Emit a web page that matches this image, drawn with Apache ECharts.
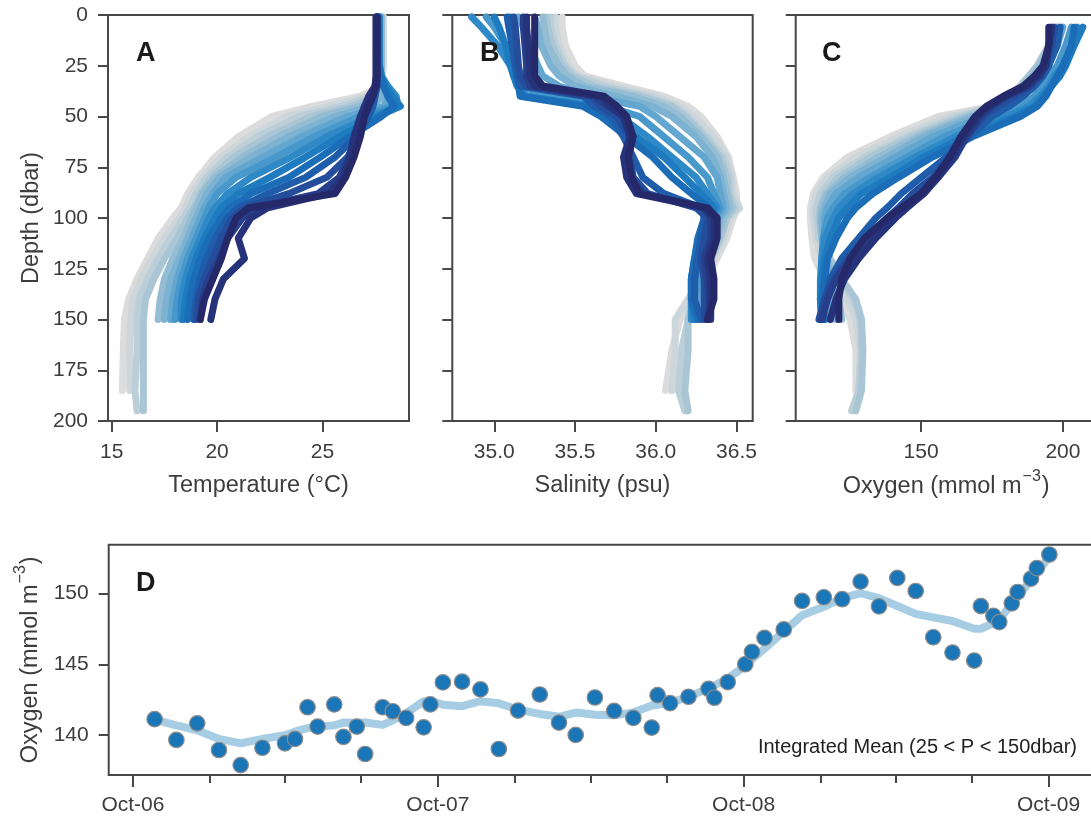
<!DOCTYPE html>
<html>
<head>
<meta charset="utf-8">
<script src="https://cdn.jsdelivr.net/npm/echarts@6/dist/echarts.min.js"></script>
<style>
html,body{margin:0;padding:0;background:#fff;}
#chart{width:1091px;height:816px;}
</style>
</head>
<body>
<div id="chart"></div>
<script>
// ---------------- DATA ----------------
const depthLevels = [1, 6, 15, 25, 30, 35, 40, 45, 50, 60, 70, 80, 88, 95, 100, 110, 120, 130, 140, 150, 165, 185, 195];

// profiles ordered in time (early -> late)
const temperatureProfiles = [
  [27.9,27.9,27.9,27.9,27.85,27.8,26.8,24.5,22.6,21.0,19.9,19.1,18.6,18.3,17.9,17.2,16.7,16.2,15.8,15.6,15.55,15.5,null],
  [27.85,27.85,27.85,27.85,27.8,27.8,27.2,25.3,23.3,21.5,20.2,19.3,18.8,18.5,18.2,17.5,16.9,16.4,16.0,15.9,15.85,15.85,null],
  [27.8,27.8,27.8,27.8,27.8,27.75,27.4,25.9,23.9,21.9,20.5,19.5,19.0,18.7,18.4,17.8,17.2,16.7,16.3,16.2,16.2,16.1,16.2],
  [27.8,27.8,27.8,27.8,27.8,27.75,27.6,26.4,24.5,22.4,20.8,19.7,19.2,18.9,18.6,18.1,17.5,17.0,16.6,16.5,16.5,16.5,16.5],
  [27.8,27.8,27.8,27.8,27.8,27.8,27.7,26.8,25.0,22.9,21.2,19.9,19.3,19.0,18.8,18.4,17.9,17.5,17.3,17.2],
  [27.75,27.75,27.75,27.75,27.75,27.8,27.9,27.3,25.6,23.4,21.6,20.1,19.5,19.2,19.0,18.6,18.2,17.8,17.6,17.5],
  [27.7,27.7,27.7,27.7,27.75,27.9,28.2,27.9,26.2,24.0,22.2,20.4,19.8,19.4,19.2,18.8,18.4,18.1,17.9,17.8],
  [27.7,27.7,27.7,27.7,27.8,28.0,28.4,28.3,26.8,24.6,22.8,20.9,20.0,19.6,19.4,19.0,18.6,18.3,18.1,18.0],
  [27.7,27.7,27.7,27.7,27.8,28.1,28.5,28.6,27.3,25.2,23.5,21.6,20.5,19.9,19.6,19.2,18.8,18.5,18.3,18.3],
  [27.65,27.65,27.65,27.7,27.8,28.0,28.3,28.7,27.6,25.8,24.2,22.5,21.0,20.2,19.9,19.4,19.0,18.7,18.5,18.4],
  [27.65,27.65,27.65,27.65,27.75,27.9,28.1,28.4,27.8,26.3,24.9,23.4,21.6,20.6,20.2,19.6,19.2,18.9,18.7,18.6],
  [27.6,27.6,27.6,27.6,27.6,27.6,27.5,27.4,27.2,26.6,25.6,24.2,22.4,21.0,20.5,19.9,19.5,19.2,19.0,18.9],
  [27.6,27.6,27.6,27.6,27.6,27.6,27.4,27.2,27.0,26.7,26.2,25.2,23.4,21.3,20.7,20.2,19.8,19.4,19.1,19.0],
  [27.55,27.55,27.55,27.55,27.55,27.5,27.3,27.0,26.9,26.6,26.3,25.8,24.8,21.8,21.2,20.5,20.1,19.6,19.3,19.2],
  [27.55,27.55,27.55,27.55,27.55,27.5,27.2,27.0,26.8,26.5,26.3,26.0,25.3,22.4,21.6,21.0,21.3,20.3,19.9,19.7],
  [27.6,27.6,27.6,27.6,27.6,27.55,27.4,27.2,27.0,26.8,26.5,26.1,25.6,21.5,20.9,20.5,20.2,19.8,19.4,19.2]
];

const salinityProfiles = [
  [35.42,35.42,35.44,35.5,35.56,35.8,36.05,36.2,36.28,36.38,36.45,36.48,36.5,36.5,36.48,36.44,36.38,36.3,36.22,36.15,36.1,36.06,null],
  [35.38,35.38,35.4,35.46,35.52,35.74,36.0,36.15,36.24,36.36,36.44,36.47,36.48,36.52,36.46,36.42,36.36,36.28,36.2,36.12,36.12,36.1,null],
  [35.35,35.35,35.38,35.44,35.5,35.68,35.95,36.12,36.2,36.32,36.42,36.46,36.46,36.5,36.44,36.4,36.34,36.26,36.22,36.2,36.16,36.14,36.18],
  [35.32,35.33,35.36,35.42,35.48,35.62,35.9,36.1,36.18,36.3,36.4,36.44,36.45,36.48,36.44,36.4,36.34,36.3,36.25,36.2,36.2,36.18,36.2],
  [35.3,35.31,35.33,35.4,35.45,35.56,35.85,36.05,36.15,36.28,36.38,36.42,36.44,36.46,36.42,36.38,36.34,36.3,36.28,36.25],
  [35.25,35.27,35.29,35.35,35.4,35.5,35.75,35.98,36.1,36.25,36.35,36.4,36.42,36.44,36.4,36.36,36.32,36.3,36.28,36.26],
  [35.15,35.18,35.22,35.27,35.3,35.4,35.6,35.9,36.0,36.15,36.3,36.38,36.4,36.42,36.38,36.34,36.3,36.28,36.26,36.24],
  [34.95,35.0,35.07,35.12,35.15,35.18,35.3,35.7,35.9,36.05,36.2,36.32,36.36,36.4,36.36,36.32,36.28,36.26,36.24,36.24],
  [34.86,34.92,35.02,35.1,35.12,35.14,35.2,35.62,35.78,35.95,36.1,36.25,36.32,36.38,36.34,36.3,36.26,36.24,36.22,36.22],
  [35.0,35.03,35.07,35.1,35.12,35.15,35.18,35.6,35.7,35.88,36.05,36.18,36.28,36.36,36.32,36.28,36.24,36.22,36.22,36.24],
  [35.1,35.1,35.11,35.13,35.14,35.15,35.16,35.55,35.66,35.82,35.98,36.1,36.22,36.33,36.3,36.26,36.24,36.22,36.22,36.26],
  [35.08,35.09,35.11,35.13,35.14,35.16,35.55,35.62,35.72,35.8,35.86,35.92,36.05,36.28,36.3,36.28,36.26,36.24,36.24,36.28],
  [35.12,35.13,35.14,35.15,35.16,35.2,35.6,35.66,35.76,35.84,35.84,35.86,35.95,36.25,36.32,36.3,36.28,36.3,36.3,36.3],
  [35.18,35.18,35.19,35.2,35.2,35.22,35.62,35.7,35.8,35.86,35.82,35.84,35.92,36.3,36.34,36.34,36.3,36.32,36.33,36.32],
  [35.2,35.2,35.21,35.22,35.22,35.25,35.66,35.72,35.8,35.84,35.8,35.82,35.88,36.3,36.36,36.36,36.32,36.34,36.34,36.34],
  [35.25,35.25,35.25,35.25,35.25,35.3,35.68,35.76,35.82,35.86,35.83,35.85,35.9,36.32,36.38,36.38,36.34,36.36,36.36,36.32]
];

const oxygenProfiles = [
  [null,198,196,192,189,186,182,175,156,139,124,115.5,112,111,111,111.5,112.5,116,122,125,127,127,null],
  [null,198,196,192,189,186,182,176,160,142,127,117,113,112,112,113,115,119,124,127,128.5,128,null],
  [null,197,195,191,188,185,181,176,163,145,130,119,114.5,113,113,114,117,121,126,128.5,129,128,125.5],
  [null,197,195,191,188,185,181,177,165,147,132,121,116,114.5,114,115,118,122,127,129,129.5,129,127],
  [null,198,196,192,189,186,183,178,167,149,135,123,117,115,114.5,115,117,119.5,121,122],
  [null,199,197,193,190,187,184,179,169,151,138,125,118,116,115,115.5,116.5,118,119,120],
  [null,200,198,194,192,189,186,181,172,154,141,128,120,117,116,116,116,116.5,117,118],
  [null,203,201,198,195,192,190,185,176,158,145,132,123,119,117,115.5,115,115,115.5,116],
  [null,205,203,200,197,195,192,188,180,162,148,135,126,121,119,116,115,114.5,114.5,115],
  [null,207,204,201,199,196,193,190,183,165,151,139,129,124,121,118,116,115,114.5,115],
  [null,204,203,200,198,196,194,191,185,168,154,142,133,127,124,120,117,116,115,116],
  [null,199,198,195,193,190,186,181,175,167,159,150,143,138,134,128,122,118,116,115.5],
  [null,197,196,194,191,189,183,177,172,166,161,154,147,142,138,131,124,119,116,114],
  [null,196,195,194,192,188,180,175,171,166,162,156,150,144,140,132,125,120,117,115],
  [null,196,195,194,191,187,180,174,170,165,161,156,151,145,141,134,128,123,120,118],
  [null,195,195,193,190,186,179,173,169,164,160,155,150,143,138,130,125,122,121,121]
];

// Panel D: integrated mean oxygen
const castDates = [
  '2006-10-27','2006-11-22','2006-12-17','2007-01-12','2007-02-07','2007-03-05','2007-04-01','2007-04-13',
  '2007-04-28','2007-05-10','2007-05-30','2007-06-10','2007-06-26','2007-07-06','2007-07-27','2007-08-08',
  '2007-08-24','2007-09-14','2007-09-22','2007-10-07','2007-10-30','2007-11-21','2007-12-13','2008-01-05',
  '2008-01-31','2008-02-23','2008-03-14','2008-04-06','2008-04-29','2008-05-22','2008-06-13','2008-06-20',
  '2008-07-05','2008-07-27','2008-08-20','2008-08-27','2008-09-12','2008-10-03','2008-10-11','2008-10-26',
  '2008-11-18','2008-12-10','2009-01-05','2009-01-27','2009-02-18','2009-03-12','2009-04-03','2009-04-25',
  '2009-05-16','2009-06-08','2009-07-04','2009-07-12','2009-07-27','2009-08-03','2009-08-18','2009-08-25',
  '2009-09-10','2009-09-17','2009-10-02'
];
const oxygenMean = [
  141.13,139.67,140.84,138.96,137.90,139.12,139.43,139.74,141.97,140.61,142.17,139.88,140.61,138.68,141.97,141.69,
  141.22,140.56,142.17,143.72,143.77,143.23,139.03,141.74,142.87,140.89,140.02,142.66,141.72,141.22,140.54,142.82,
  142.26,142.71,143.27,142.64,143.74,145.00,145.87,146.86,147.45,149.46,149.72,149.58,150.82,149.08,151.08,150.16,
  146.90,145.82,145.26,149.10,148.41,147.97,149.29,150.09,151.03,151.77,152.73
];
const oxygenSmooth = [
  141.1,140.7,140.35,139.74,139.43,139.74,140.0,140.25,140.5,140.6,140.7,140.89,140.87,140.9,140.73,141.05,
  141.55,142.4,142.45,142.15,142.05,142.4,142.25,141.8,141.5,141.3,141.6,141.45,141.4,141.6,142.1,142.15,
  142.3,142.7,143.3,143.5,144.0,144.9,145.35,146.1,147.3,148.45,149.05,149.65,150.0,149.65,149.1,148.55,
  148.3,148.05,147.5,147.5,147.9,148.1,149.3,149.8,150.9,151.4,152.6
];

// tick values / labels
const tempTicks = [15, 20, 25];
const salTicks = [35.0, 35.5, 36.0, 36.5];
const oxyTicks = [150, 200];
const meanTicks = [140, 145, 150];
const yearTickDates = ['2006-10-01','2007-10-01','2008-10-01','2009-10-01'];
const yearTickLabels = ['Oct-06','Oct-07','Oct-08','Oct-09'];
const quarterTickDates = ['2006-10-01','2007-01-01','2007-04-01','2007-07-01','2007-10-01','2008-01-01','2008-04-01',
  '2008-07-01','2008-10-01','2009-01-01','2009-04-01','2009-07-01','2009-10-01'];

// ---------------- STYLE ----------------
const profileColors = ['#dcdcdc','#cdd6da','#bccfd8','#aac6d5','#94bcd3','#7db2d2','#63a6d0','#4898cc',
  '#2f89c6','#1f7bbf','#1b6db7','#1f5dab','#244d9c','#273f8b','#26337a','#25296a'];
const FONT = '"Liberation Sans", Arial, Helvetica, sans-serif';
const TXT = '#3d3d3d';
const SPINE = '#474747';

const ts = s => new Date(s + 'T00:00:00Z').getTime();
const yearTs = yearTickDates.map(ts);

const chart = echarts.init(document.getElementById('chart'), null, {renderer: 'canvas'});

const grids = [
  {left: 108, top: 15, width: 301, height: 406},
  {left: 452.3, top: 15, width: 300.4, height: 406},
  {left: 795.7, top: 15, width: 301, height: 406},
  {left: 108.7, top: 544.7, width: 988.3, height: 230.3}
].map(g => Object.assign({show: true, borderColor: SPINE, borderWidth: 2, backgroundColor: 'transparent',
  containLabel: false, outerBoundsMode: 'none'}, g));

const tickStyle = {color: SPINE, width: 2};
const labelBase = {color: TXT, fontSize: 21, fontFamily: FONT};
const nameBase = {color: TXT, fontSize: 23.5, fontFamily: FONT};
const oxyName = '{n|Oxygen (mmol m}{s|−3}{n|)}';
const oxyRich = {
  n: {fontSize: 23.5, fontFamily: FONT, color: TXT, verticalAlign: 'bottom', lineHeight: 30},
  s: {fontSize: 16, fontFamily: FONT, color: TXT, verticalAlign: 'top', lineHeight: 30, padding: [0, 1, 0, 1]}
};

function profileX(gridIndex, min, max, ticks, fmt, name, rich) {
  return {
    gridIndex, type: 'value', min, max, position: 'bottom',
    axisLine: {show: false, onZero: false}, splitLine: {show: false},
    axisTick: {show: true, length: 11, lineStyle: tickStyle, customValues: ticks},
    axisLabel: Object.assign({margin: 21, customValues: ticks, formatter: fmt, hideOverlap: false}, labelBase),
    name, nameLocation: 'middle', nameGap: rich ? 48 : 53,
    nameTextStyle: Object.assign({}, nameBase, rich ? {rich} : {})
  };
}
function profileY(gridIndex, showLabels) {
  return {
    gridIndex, type: 'value', inverse: true, min: 0, max: 200, interval: 25, position: 'left',
    axisLine: {show: false, onZero: false}, splitLine: {show: false},
    axisTick: {show: true, length: 10, lineStyle: tickStyle},
    axisLabel: Object.assign({show: showLabels, margin: 20}, labelBase),
    name: showLabels ? 'Depth (dbar)' : '', nameLocation: 'middle', nameGap: 64, nameTextStyle: nameBase
  };
}

const dMin = ts('2006-09-02'), dMax = ts('2009-11-28');
const xAxes = [
  profileX(0, 14.82, 29.11, tempTicks, v => String(Math.round(v)), 'Temperature (°C)'),
  profileX(1, 34.74, 36.60, salTicks, v => Number(v).toFixed(1), 'Salinity (psu)'),
  profileX(2, 105.8, 211.9, oxyTicks, v => String(Math.round(v)), oxyName, oxyRich),
  {
    gridIndex: 3, type: 'value', min: dMin, max: dMax, position: 'bottom',
    axisLine: {show: false, onZero: false}, splitLine: {show: false},
    axisTick: {show: true, length: 8, lineStyle: tickStyle, customValues: quarterTickDates.map(ts)},
    axisLabel: {show: false}
  },
  {
    gridIndex: 3, type: 'value', min: dMin, max: dMax, position: 'bottom',
    axisLine: {show: false, onZero: false}, splitLine: {show: false},
    axisTick: {show: true, length: 12, lineStyle: tickStyle, customValues: yearTs},
    axisLabel: Object.assign({margin: 20, customValues: yearTs, hideOverlap: false,
      formatter: v => {
        let best = 0;
        yearTs.forEach((t, i) => { if (Math.abs(t - v) < Math.abs(yearTs[best] - v)) best = i; });
        return yearTickLabels[best];
      }}, labelBase)
  }
];

const yAxes = [
  profileY(0, true), profileY(1, false), profileY(2, false),
  {
    gridIndex: 3, type: 'value', min: 137.2, max: 153.42, position: 'left',
    axisLine: {show: false, onZero: false}, splitLine: {show: false},
    axisTick: {show: true, length: 10, lineStyle: tickStyle, customValues: meanTicks},
    axisLabel: Object.assign({margin: 20, customValues: meanTicks, formatter: v => String(Math.round(v))}, labelBase),
    name: oxyName, nameLocation: 'middle', nameGap: 64,
    nameTextStyle: Object.assign({}, nameBase, {rich: oxyRich})
  }
];

function profileSeries(profiles, idx) {
  return profiles.map((vals, i) => ({
    type: 'line', xAxisIndex: idx, yAxisIndex: idx, silent: true,
    symbol: 'none', showSymbol: false, animation: false,
    data: vals.map((v, k) => v == null ? null : [v, depthLevels[k]]).filter(p => p),
    lineStyle: {color: profileColors[i], width: 7, cap: 'round', join: 'round'},
    z: 2
  }));
}

const meanData = castDates.map((d, i) => [ts(d), oxygenMean[i]]);
const smoothData = castDates.map((d, i) => [ts(d), oxygenSmooth[i]]);

const series = [
  ...profileSeries(temperatureProfiles, 0),
  ...profileSeries(salinityProfiles, 1),
  ...profileSeries(oxygenProfiles, 2),
  {
    type: 'line', xAxisIndex: 3, yAxisIndex: 3, data: smoothData, symbol: 'none', showSymbol: false,
    lineStyle: {color: '#a6cde3', width: 8, cap: 'round', join: 'round'}, silent: true, z: 3
  },
  {
    type: 'scatter', xAxisIndex: 3, yAxisIndex: 3, data: meanData, symbol: 'circle', symbolSize: 15.5,
    itemStyle: {color: '#1a76b6', borderColor: '#8c8c8c', borderWidth: 1.2, opacity: 1}, silent: true, z: 4
  }
];

const letterFont = 'bold 27px ' + FONT;
const graphic = [
  {type: 'text', z: 100, style: {text: 'A', x: 136, y: 54, font: letterFont, fill: '#1a1a1a', align: 'left', verticalAlign: 'middle'}},
  {type: 'text', z: 100, style: {text: 'B', x: 480, y: 54, font: letterFont, fill: '#1a1a1a', align: 'left', verticalAlign: 'middle'}},
  {type: 'text', z: 100, style: {text: 'C', x: 822, y: 54, font: letterFont, fill: '#1a1a1a', align: 'left', verticalAlign: 'middle'}},
  {type: 'text', z: 100, style: {text: 'D', x: 136, y: 584, font: letterFont, fill: '#1a1a1a', align: 'left', verticalAlign: 'middle'}},
  {type: 'text', z: 100, style: {text: 'Integrated Mean (25 < P < 150dbar)', x: 1077, y: 747,
    font: '20px ' + FONT, fill: '#222222', align: 'right', verticalAlign: 'middle'}}
];

chart.setOption({
  animation: false,
  backgroundColor: '#ffffff',
  grid: grids,
  xAxis: xAxes,
  yAxis: yAxes,
  series,
  graphic
});
</script>
</body>
</html>
